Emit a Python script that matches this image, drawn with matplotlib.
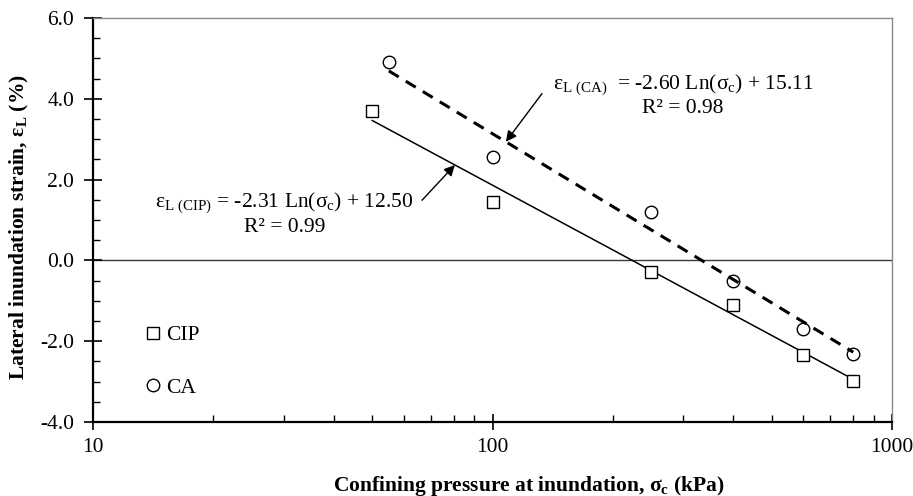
import matplotlib
matplotlib.use('Agg')
import matplotlib.pyplot as plt
import numpy as np
from matplotlib.ticker import FixedLocator, FuncFormatter, MultipleLocator, NullFormatter

plt.rcParams['font.family'] = ['Liberation Serif', 'DejaVu Serif']
plt.rcParams['mathtext.fontset'] = 'custom'
plt.rcParams['mathtext.rm'] = 'Liberation Serif'
plt.rcParams['mathtext.it'] = 'Liberation Serif'
plt.rcParams['mathtext.bf'] = 'Liberation Serif:bold'
plt.rcParams['axes.unicode_minus'] = False

# confining pressure (kPa) and lateral inundation strain (%)
cip_p = [50, 100, 250, 400, 600, 800]
cip_e = [3.70, 1.44, -0.29, -1.11, -2.35, -2.99]
ca_p = [55, 100, 250, 400, 600, 800]
ca_e = [4.92, 2.56, 1.19, -0.50, -1.69, -2.31]

# log fits: e = a*ln(p) + b
cip_fit = (-2.31, 12.50, 0.99)
ca_fit = (-2.60, 15.11, 0.98)

FS = 15.5


def fit_y(fit, p):
    return fit[0] * np.log(p) + fit[1]


fig = plt.figure(figsize=(9.13, 4.96), dpi=100)
ax = fig.add_axes([0.1019, 0.149, 0.8751, 0.8147])

ax.axhline(0, color='#3a3a3a', lw=1.0, zorder=1)

xs = np.linspace(min(cip_p), max(cip_p), 100)
ax.plot(xs, fit_y(cip_fit, xs), '-', color='black', lw=1.1, zorder=2)
xs = np.linspace(min(ca_p), max(ca_p), 100)
ax.plot(xs, fit_y(ca_fit, xs), color='black', lw=2.2, dashes=(3.8, 2.7), zorder=2)

ax.plot(cip_p, cip_e, 's', ms=9, mfc='white', mec='black', mew=1.0,
        ls='none', label='CIP', zorder=3)
ax.plot(ca_p, ca_e, 'o', ms=9, mfc='none', mec='black', mew=1.0,
        ls='none', label='CA', zorder=3)

ax.set_xscale('log')
ax.set_xlim(10, 1000)
ax.set_ylim(-4, 6)

ax.xaxis.set_major_locator(FixedLocator([10, 100, 1000]))
ax.xaxis.set_major_formatter(FuncFormatter(lambda v, _: '%d' % v))
ax.xaxis.set_minor_locator(FixedLocator(list(range(20, 100, 10)) + list(range(200, 1000, 100))))
ax.xaxis.set_minor_formatter(NullFormatter())
ax.yaxis.set_major_locator(MultipleLocator(2))
ax.yaxis.set_minor_locator(MultipleLocator(0.5))
ax.yaxis.set_major_formatter(FuncFormatter(lambda v, _: '%.1f' % v))

ax.tick_params(axis='y', which='major', direction='inout', length=13, width=1.2,
               labelsize=FS, pad=7)
ax.tick_params(axis='y', which='minor', direction='in', length=5, width=1.0)
ax.tick_params(axis='x', which='major', direction='inout', length=11, width=1.2,
               labelsize=FS, pad=6)
ax.tick_params(axis='x', which='minor', direction='in', length=5, width=1.0)

for side in ('left', 'bottom'):
    ax.spines[side].set_linewidth(1.6)
    ax.spines[side].set_color('black')
for side in ('top', 'right'):
    ax.spines[side].set_linewidth(1.0)
    ax.spines[side].set_color('#8a8a8a')

ax.set_xlabel(r'Confining pressure at inundation, $\mathbf{σ_c}$ (kPa)',
              fontsize=FS, fontweight='bold')
ax.xaxis.set_label_coords(0.545, -0.128)
ax.set_ylabel(r'Lateral inundation strain, $\mathbf{ε_L}$ (%)',
              fontsize=FS, fontweight='bold')
ax.yaxis.set_label_coords(-0.078, 0.482)

# fit equations with arrows to their lines
ax.text(30.1, 1.16,
        r'$ε_{\mathrm{L\ (CIP)}}$ = %.2f Ln($σ_{\mathrm{c}}$) + %.2f' % cip_fit[:2]
        + '\nR² = %.2f' % cip_fit[2],
        fontsize=FS, ha='center', va='center', linespacing=1.15)
ax.annotate('', xy=(80.5, fit_y(cip_fit, 80.5)), xytext=(66.6, 1.49),
            arrowprops=dict(arrowstyle='-|>', color='black', lw=1.0,
                            mutation_scale=16, shrinkA=0, shrinkB=0))

ax.text(300, 4.1,
        r'$ε_{\mathrm{L\ (CA)}}$  = %.2f Ln($σ_{\mathrm{c}}$) + %.2f' % ca_fit[:2]
        + '\nR² = %.2f' % ca_fit[2],
        fontsize=FS, ha='center', va='center', linespacing=1.15)
ax.annotate('', xy=(108, fit_y(ca_fit, 108)), xytext=(133, 4.13),
            arrowprops=dict(arrowstyle='-|>', color='black', lw=1.0,
                            mutation_scale=16, shrinkA=0, shrinkB=0))

ax.legend(loc='upper left', bbox_to_anchor=(0.062, 0.24), frameon=False,
          fontsize=FS, handlelength=1.0, handletextpad=0.1, borderpad=0,
          borderaxespad=0, labelspacing=1.5, markerscale=1.0)

fig.savefig('out.png', dpi=100, facecolor='white')
